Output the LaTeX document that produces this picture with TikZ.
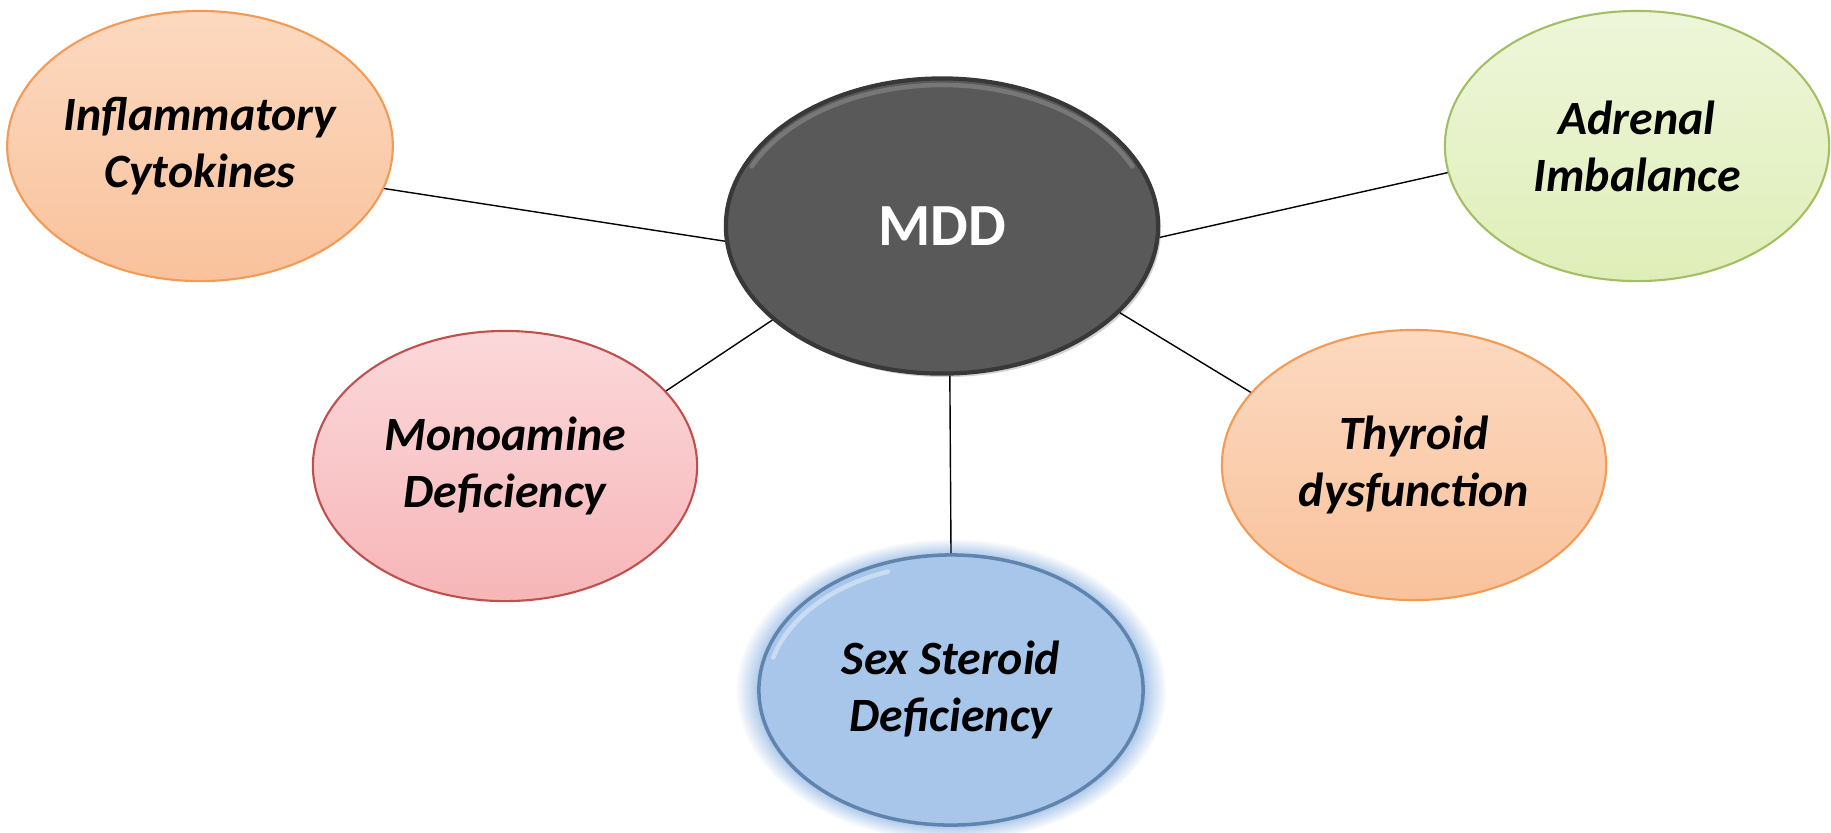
\documentclass[tikz,border=0pt]{standalone}
\usepackage{fontspec}
\setmainfont{Carlito}
\usetikzlibrary{%
  shapes,%
  shadows,%
  fadings,%
  positioning%
}
\definecolor{peachtop}{HTML}{FCD9C0}
\definecolor{peachbot}{HTML}{F9C29C}
\definecolor{peachline}{HTML}{F59A55}
\definecolor{greentop}{HTML}{EEF6DA}
\definecolor{greenbot}{HTML}{DFEEB8}
\definecolor{greenline}{HTML}{A3BF63}
\definecolor{pinktop}{HTML}{FBD8DA}
\definecolor{pinkbot}{HTML}{F7B6B8}
\definecolor{pinkline}{HTML}{C0504D}
\definecolor{bluefill}{HTML}{A7C6EA}
\definecolor{blueline}{HTML}{5F84AE}
\definecolor{blueglow}{HTML}{8DB3E2}
\definecolor{mddfill}{HTML}{595959}
\definecolor{mddline}{HTML}{383838}

\begin{document}
\begin{tikzpicture}
[x=0.01cm, y=-0.01cm, line width=0.4pt,
cause/.style={ellipse, inner sep=0pt, minimum width=3.84cm, minimum height=2.7cm,
  align=center, line width=0.6pt, font=\fontsize{13.6}{16.2}\selectfont\bfseries\itshape},
peach/.style={cause, draw=peachline, top color=peachtop, bottom color=peachbot},
green/.style={cause, draw=greenline, top color=greentop, bottom color=greenbot},
pink/.style={cause, draw=pinkline, top color=pinktop, bottom color=pinkbot},
blue/.style={cause, draw=blueline, line width=1pt, fill=bluefill,
  circular glow={fill=blueglow, shadow scale=1.12}},
center/.style={ellipse, inner sep=0pt, minimum width=4.32cm, minimum height=2.95cm,
  draw=mddline, line width=1.2pt, fill=mddfill, text=white,
  drop shadow={opacity=0.35, shadow xshift=0.8pt, shadow yshift=-1pt},
  font=\fontsize{17}{20}\selectfont\bfseries},
rim/.style={line width=1.3pt, line cap=round, opacity=0.4}]

\useasboundingbox (0,0) rectangle (1831,832);

\node[center] (mdd) at (942,226) {MDD};
\node[peach] (infl) at (200,146) {Inflammatory\\Cytokines};
\node[green] (adrenal) at (1637,146) {Adrenal\\Imbalance};
\node[pink] (mono) at (505,466) {Monoamine\\Deficiency};
\node[peach] (thyroid) at (1414,465) {Thyroid\\dysfunction};
\node[blue] (sex) at (951,690) {Sex Steroid\\Deficiency};

% bevel highlights
\draw[rim, gray!70] (mdd.center) ++(205:210 and 141)
	arc[start angle=205, end angle=335, x radius=210, y radius=141];
\draw[rim, white] (sex.center) ++(195:184 and 126)
	arc[start angle=195, end angle=250, x radius=184, y radius=126];

\foreach \from/\to in {infl.-13/mdd.184, adrenal.188/mdd.357, mono.25/mdd.209,
  thyroid.156/mdd.334, sex.north/mdd.273}
	\draw (\from) -- (\to);
\end{tikzpicture}
\end{document}
